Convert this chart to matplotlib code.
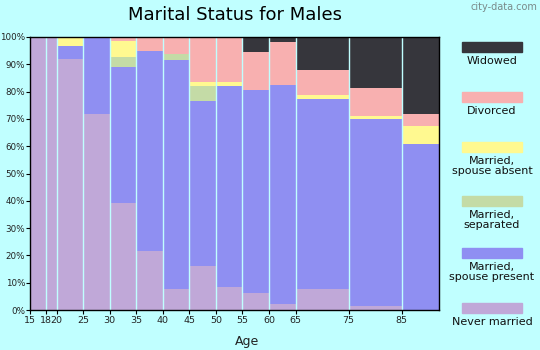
import matplotlib
matplotlib.use("Agg")
import matplotlib.pyplot as plt
import numpy as np

# Age bins (edges)
bin_edges = [15, 18, 20, 25, 30, 35, 40, 45, 50, 55, 60, 65, 75, 85, 92]
tick_ages = [15, 18, 20, 25, 30, 35, 40, 45, 50, 55, 60, 65, 75, 85]

categories = ["Never married", "Married,\nspouse present", "Married,\nseparated",
              "Married,\nspouse absent", "Divorced", "Widowed"]
colors = ["#C0A8D8", "#8F8FF2", "#C4DBA6", "#FFF990", "#F8B0B0", "#36363C"]

never_married   = [100, 100, 92.0, 71.9, 39.2, 21.6, 7.7, 16.1, 8.4, 6.2, 2.2, 7.7, 1.5, 0.0]
spouse_present  = [0, 0, 4.8, 28.1, 49.9, 73.4, 84.0, 60.6, 73.8, 74.5, 80.3, 69.7, 68.5, 60.9]
separated       = [0, 0, 0.0, 0.0, 3.7, 0.0, 2.2, 5.5, 0.0, 0.0, 0.0, 0.0, 0.0, 0.0]
spouse_absent   = [0, 0, 3.2, 0.0, 5.9, 0.0, 0.0, 1.4, 1.4, 0.0, 0.0, 1.5, 1.1, 6.6]
divorced        = [0, 0, 0.0, 0.0, 1.3, 5.0, 6.1, 16.4, 16.4, 13.9, 15.8, 9.1, 10.3, 4.4]
widowed         = [0, 0, 0.0, 0.0, 0.0, 0.0, 0.0, 0.0, 0.0, 5.4, 1.7, 12.0, 18.6, 28.1]

series = [never_married, spouse_present, separated, spouse_absent, divorced, widowed]

bg = "#C0FFFF"
W, H = 540, 350
fig = plt.figure(figsize=(W / 100, H / 100), dpi=100, facecolor=bg)
ax = fig.add_axes([30 / W, (H - 310) / H, 409 / W, 273 / H])
ax.set_facecolor(bg)

lefts = np.array(bin_edges[:-1], dtype=float)
widths = np.diff(bin_edges).astype(float)
bottom = np.zeros(len(lefts))
for vals, col in zip(series, colors):
    v = np.array(vals, dtype=float)
    ax.bar(lefts, v, width=widths, bottom=bottom, align="edge", color=col,
           edgecolor="none", linewidth=0)
    bottom += v

for e in bin_edges[1:-1]:
    ax.axvline(e, color=bg, lw=1.0)

ax.set_xlim(bin_edges[0], bin_edges[-1])
ax.set_ylim(0, 100)
ax.set_xticks(tick_ages)
ax.set_xticklabels([str(a) for a in tick_ages], fontsize=6.8, color="#222222")
ax.set_yticks(range(0, 101, 10))
ax.set_yticklabels([f"{v}%" for v in range(0, 101, 10)], fontsize=6.3, color="#222222")
ax.tick_params(axis="both", length=3, width=0.8, pad=1)
ax.tick_params(axis="y", pad=0.5)
for s in ax.spines.values():
    s.set_color("black")
    s.set_linewidth(1.0)

fig.text(235 / W, 1 - 15 / H, "Marital Status for Males", fontsize=13,
         ha="center", va="center", color="black")
fig.text(247 / W, 1 - 342 / H, "Age", fontsize=9, ha="center", va="center",
         color="#222222")
fig.text(537 / W, 1 - 7 / H, "city-data.com", fontsize=7, ha="right",
         va="center", color="#7a8a8a")

# Legend
legend_items = list(zip(categories, colors))[::-1]
patch_y = [47, 97, 147, 201, 253, 308]
for (name, col), py in zip(legend_items, patch_y):
    fig.patches.append(plt.Rectangle((462 / W, 1 - (py + 5) / H), 60 / W, 10 / H,
                                     transform=fig.transFigure, color=col,
                                     figure=fig))
    fig.text(492 / W, 1 - (py + 9) / H, name, fontsize=8, ha="center", va="top",
             color="#111111", linespacing=1.05)

fig.savefig("out.png", dpi=100, facecolor=bg)
